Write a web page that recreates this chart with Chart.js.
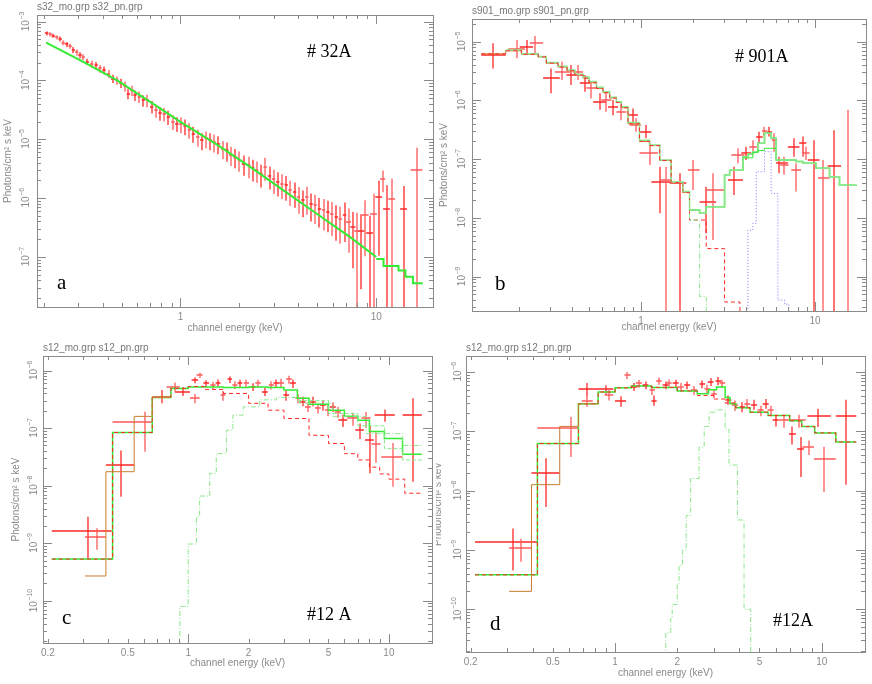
<!DOCTYPE html>
<html>
<head>
<meta charset="UTF-8">
<title>spectra</title>
<script src="https://cdn.jsdelivr.net/npm/chart.js@4.4.1/dist/chart.umd.min.js"></script>
<style>
  body { margin: 0; background: #fff; }
  #wrap { position: relative; width: 872px; height: 684px; }
  canvas { position: absolute; }
</style>
</head>
<body>
<div id="wrap">
  <canvas id="pa" width="436" height="338" style="left:0;top:0"></canvas>
  <canvas id="pb" width="436" height="338" style="left:436px;top:0"></canvas>
  <canvas id="pc" width="436" height="344" style="left:0;top:340px"></canvas>
  <canvas id="pd" width="436" height="344" style="left:436px;top:340px"></canvas>
</div>
<script>
// ---- tick labels
const xTicksAB = [1, 10];
const xTicksCD = [0.2, 0.5, 1, 2, 5, 10];
const yTicksA = [1e-7, 1e-6, 1e-5, 1e-4, 1e-3];
const yTicksB = [1e-9, 1e-8, 1e-7, 1e-6, 1e-5];
const yTicksCD = [1e-10, 1e-9, 1e-8, 1e-7, 1e-6];

// ---- panel a (#32A): model and data [E, flux, rel. y err, rel. x err]
const aModelE = [0.206, 0.319, 0.473, 0.70, 1.0, 1.53, 2.27, 3.36, 4.97, 7.36, 10.0];
const aModelF = [4.4e-4, 2.08e-4, 1.01e-4, 4.33e-5, 1.97e-5, 8.2e-6, 3.38e-6, 1.35e-6, 5.4e-7, 2.16e-7, 9.9e-8];
const aTailE = [10.0, 10.9, 13.0, 14.1, 15.4, 17.3];
const aTailF = [9.2e-8, 7.0e-8, 5.85e-8, 4.6e-8, 3.56e-8];
const aData = [
  [0.207, 6.3e-4, 0.08, 0.02], [0.216, 6.1e-4, 0.08, 0.02], [0.224, 5.8e-4, 0.08, 0.02],
  [0.233, 5.4e-4, 0.08, 0.02], [0.243, 5.1e-4, 0.1, 0.02], [0.252, 4.4e-4, 0.1, 0.02],
  [0.262, 4.1e-4, 0.1, 0.02], [0.273, 3.85e-4, 0.1, 0.02], [0.284, 3.3e-4, 0.12, 0.02],
  [0.295, 3.0e-4, 0.12, 0.02], [0.307, 2.7e-4, 0.12, 0.02], [0.319, 2.5e-4, 0.12, 0.02],
  [0.335, 2.1e-4, 0.12, 0.02], [0.352, 1.9e-4, 0.14, 0.02], [0.371, 1.8e-4, 0.15, 0.02],
  [0.388, 1.6e-4, 0.15, 0.02], [0.407, 1.5e-4, 0.15, 0.02], [0.429, 1.3e-4, 0.16, 0.02],
  [0.451, 1.08e-4, 0.16, 0.02], [0.473, 1.01e-4, 0.16, 0.02], [0.496, 9.1e-5, 0.18, 0.02],
  [0.521, 8.0e-5, 0.2, 0.02], [0.542, 6.0e-5, 0.2, 0.02], [0.564, 6.8e-5, 0.2, 0.02],
  [0.586, 5.6e-5, 0.2, 0.02], [0.617, 5.3e-5, 0.22, 0.02], [0.647, 4.6e-5, 0.22, 0.02],
  [0.678, 4.6e-5, 0.24, 0.02], [0.713, 3.6e-5, 0.24, 0.02], [0.751, 3.1e-5, 0.25, 0.02],
  [0.787, 2.8e-5, 0.26, 0.02], [0.826, 2.7e-5, 0.26, 0.02], [0.868, 2.4e-5, 0.27, 0.02],
  [0.914, 2.0e-5, 0.28, 0.02], [0.958, 1.85e-5, 0.28, 0.02], [1.004, 1.8e-5, 0.3, 0.02],
  [1.056, 1.67e-5, 0.3, 0.02], [1.112, 1.46e-5, 0.3, 0.02], [1.165, 1.25e-5, 0.3, 0.02],
  [1.226, 1.1e-5, 0.32, 0.02], [1.285, 9.6e-6, 0.32, 0.02], [1.352, 1.03e-5, 0.32, 0.02],
  [1.418, 9.6e-6, 0.32, 0.02], [1.486, 9.0e-6, 0.34, 0.02], [1.563, 8.4e-6, 0.34, 0.02],
  [1.645, 6.9e-6, 0.34, 0.02], [1.725, 6.5e-6, 0.36, 0.02], [1.807, 5.5e-6, 0.36, 0.02],
  [1.901, 5.0e-6, 0.36, 0.02], [2.00, 4.5e-6, 0.38, 0.02], [2.10, 3.85e-6, 0.38, 0.02],
  [2.23, 3.6e-6, 0.4, 0.02], [2.34, 3.2e-6, 0.4, 0.02], [2.45, 3.0e-6, 0.4, 0.02],
  [2.58, 2.6e-6, 0.42, 0.02], [2.71, 3.4e-6, 0.42, 0.02], [2.85, 2.4e-6, 0.42, 0.02],
  [2.99, 2.1e-6, 0.44, 0.02], [3.14, 1.9e-6, 0.44, 0.02], [3.30, 1.75e-6, 0.45, 0.02],
  [3.47, 1.64e-6, 0.45, 0.02], [3.63, 1.35e-6, 0.46, 0.02], [3.83, 1.26e-6, 0.46, 0.02],
  [4.01, 1.04e-6, 0.48, 0.02], [4.22, 9.1e-7, 0.48, 0.02], [4.42, 1.04e-6, 0.5, 0.02],
  [4.65, 8.0e-7, 0.5, 0.02], [4.88, 7.5e-7, 0.52, 0.02], [5.13, 6.6e-7, 0.52, 0.02],
  [5.38, 6.2e-7, 0.55, 0.02], [5.66, 5.8e-7, 0.55, 0.02], [5.93, 5.4e-7, 0.58, 0.02],
  [6.25, 4.7e-7, 0.6, 0.02], [6.55, 4.4e-7, 0.62, 0.02], [6.89, 5.1e-7, 0.65, 0.02],
  [7.22, 3.9e-7, 0.7, 0.03], [7.60, 3.2e-7, 0.8, 0.03], [7.96, 2.8e-7, 1.0, 0.03],
  [8.38, 2.8e-7, 0.9, 0.04], [8.79, 5.1e-7, 0.8, 0.04], [9.25, 2.5e-7, 1.0, 0.04],
  [9.69, 5.4e-7, 1.2, 0.04], [10.3, 1.04e-6, 0.9, 0.04], [10.8, 2.1e-6, 0.4, 0.03],
  [11.3, 6.6e-7, 1.5, 0.04], [12.0, 9.8e-7, 1.2, 0.04], [13.8, 6.4e-7, 1.5, 0.04],
  [16.1, 3.0e-6, 1.4, 0.07]
];

// ---- panel b (#901A): bin edges and fluxes; data rows [E, Elo, Ehi, F, Flo, Fhi]
const bGreenE = [0.167, 0.206, 0.257, 0.286, 0.334, 0.376, 0.417, 0.465, 0.503, 0.555, 0.605, 0.661, 0.722, 0.771, 0.842, 0.98, 1.12, 1.28, 1.49, 1.74, 1.90, 2.17, 2.37, 3.02, 3.23, 3.85, 4.11, 4.39, 4.69, 5.12, 5.59, 5.97, 7.78, 8.49, 10.1, 12.1, 13.8, 17.3];
const bGreenF = [7.2e-6, 6.2e-6, 5.6e-6, 4.4e-6, 3.8e-6, 3.3e-6, 2.8e-6, 2.5e-6, 2.1e-6, 1.67e-6, 1.41e-6, 1.13e-6, 9.5e-7, 7.8e-7, 4.2e-7, 2.1e-7, 1.74e-7, 9.7e-8, 4.1e-8, 2.8e-8, 1.36e-8, 1.2e-8, 1.55e-8, 5.4e-8, 6.5e-8, 1.1e-7, 1.22e-7, 1.34e-7, 1.86e-7, 2.75e-7, 2.26e-7, 9.7e-8, 9.1e-8, 8.5e-8, 7.0e-8, 5.0e-8, 3.6e-8];
const bGreen2E = [3.85, 4.39, 4.69, 5.12, 5.97];
const bGreen2F = [1.05e-7, 1.3e-7, 1.4e-7, 1.53e-7];
const bOrangeE = [0.121, 0.167, 0.206, 0.257, 0.286, 0.334, 0.376, 0.417, 0.465, 0.503, 0.555, 0.605, 0.661, 0.722, 0.771, 0.842, 0.98, 1.12, 1.28, 1.49, 1.74, 1.90];
const bOrangeF = [6.2e-6, 7.0e-6, 6.1e-6, 5.5e-6, 4.3e-6, 3.7e-6, 3.2e-6, 2.7e-6, 2.4e-6, 2.0e-6, 1.6e-6, 1.35e-6, 1.1e-6, 9.2e-7, 7.5e-7, 4.0e-7, 2.0e-7, 1.7e-7, 9.5e-8, 4.0e-8, 2.7e-8];
const bRedE = [0.121, 0.167, 0.206, 0.257, 0.286, 0.334, 0.376, 0.417, 0.465, 0.503, 0.555, 0.605, 0.661, 0.722, 0.771, 0.842, 0.98, 1.12, 1.28, 1.49, 1.74, 1.90, 2.37, 3.02, 3.70];
const bRedF = [6.2e-6, 7.0e-6, 6.1e-6, 5.5e-6, 4.3e-6, 3.7e-6, 3.2e-6, 2.7e-6, 2.4e-6, 2.0e-6, 1.6e-6, 1.35e-6, 1.1e-6, 9.2e-7, 7.5e-7, 4.0e-7, 2.0e-7, 1.7e-7, 9.5e-8, 4.0e-8, 2.7e-8, 9.2e-9, 3.0e-9, 3.7e-10, 1e-12];
const bDashE = [1.49, 1.74, 1.90, 2.17, 2.37];
const bDashF = [4.1e-8, 2.8e-8, 9.2e-9, 4.6e-10, 1e-12];
const bBlueE = [4.11, 4.11, 4.39, 4.59, 5.12, 5.59, 6.11, 6.68, 7.06];
const bBlueF = [1e-12, 6.2e-9, 8.1e-9, 6.1e-8, 1.34e-7, 2.6e-8, 4.0e-10, 3.4e-10, 1e-12];
const bData = [
  [0.1416, 0.121, 0.167, 5.93e-6, 3.5e-6, 9.4e-6], [0.193, 0.173, 0.215, 7.5e-6, 5.2e-6, 1.07e-5],
  [0.220, 0.201, 0.240, 8.2e-6, 5.93e-6, 1.07e-5], [0.2455, 0.230, 0.274, 9.6e-6, 6.3e-6, 1.25e-5],
  [0.306, 0.274, 0.3415, 2.38e-6, 1.32e-6, 3.5e-6], [0.354, 0.320, 0.390, 3.08e-6, 2.23e-6, 4.57e-6],
  [0.398, 0.373, 0.426, 2.71e-6, 1.83e-6, 4.0e-6], [0.435, 0.407, 0.465, 3.08e-6, 2.23e-6, 4.0e-6],
  [0.475, 0.445, 0.508, 1.95e-6, 1.41e-6, 2.71e-6], [0.519, 0.486, 0.555, 1.61e-6, 1.08e-6, 2.1e-6],
  [0.580, 0.531, 0.633, 9.5e-7, 6.9e-7, 1.32e-6], [0.633, 0.592, 0.676, 1.02e-6, 6.4e-7, 1.32e-6],
  [0.691, 0.647, 0.738, 7.8e-7, 5.6e-7, 1.02e-6], [0.771, 0.722, 0.824, 6.4e-7, 4.6e-7, 8.4e-7],
  [0.900, 0.842, 0.961, 5.6e-7, 4.07e-7, 7.3e-7], [0.940, 0.861, 1.0, 3.8e-7, 2.94e-7, 4.96e-7],
  [1.064, 0.98, 1.146, 2.94e-7, 2.26e-7, 3.8e-7], [1.12, 0.98, 1.25, 1.26e-7, 7.96e-8, 1.86e-7],
  [1.28, 1.146, 1.49, 4.14e-8, 1.2e-8, 7.45e-8], [1.385, 1.28, 1.49, 4.4e-8, 1e-12, 7.45e-8],
  [1.67, 1.46, 1.82, 3.88e-8, 1e-12, 5.74e-8], [1.99, 1.86, 2.17, 6.5e-8, 2.98e-8, 9.7e-8],
  [2.37, 2.17, 2.70, 1.89e-8, 5.5e-9, 3.4e-8], [2.59, 2.37, 3.02, 2.98e-8, 4.2e-9, 5.74e-8],
  [3.44, 3.16, 3.85, 4.4e-8, 2.45e-8, 7.45e-8], [3.60, 3.30, 3.93, 1.18e-7, 8.5e-8, 1.53e-7],
  [4.02, 3.77, 4.30, 1.26e-7, 9.7e-8, 1.63e-7], [4.39, 4.18, 4.62, 1.63e-7, 1.26e-7, 2.1e-7],
  [4.79, 4.58, 5.0, 2.42e-7, 1.86e-7, 2.94e-7], [5.12, 4.95, 5.30, 3.0e-7, 2.42e-7, 3.57e-7],
  [5.47, 5.30, 5.66, 2.94e-7, 2.42e-7, 3.57e-7], [5.84, 5.64, 6.05, 2.1e-7, 1.34e-7, 2.75e-7],
  [6.24, 5.97, 6.97, 8.5e-8, 5.74e-8, 1.1e-7], [6.67, 6.30, 7.05, 8.0e-8, 5.4e-8, 1.1e-7],
  [7.60, 6.97, 8.13, 1.63e-7, 1.1e-7, 2.26e-7], [7.78, 7.3, 8.3, 6.5e-8, 2.8e-8, 8.5e-8],
  [8.49, 8.1, 8.9, 1.86e-7, 1.1e-7, 2.42e-7], [8.87, 8.5, 9.3, 1.26e-7, 9.7e-8, 1.63e-7],
  [9.91, 9.08, 10.6, 9.7e-8, 1e-12, 2.1e-7], [11.1, 10.4, 12.1, 4.72e-8, 1e-12, 9.7e-8],
  [12.9, 11.8, 14.1, 7.7e-8, 1e-12, 3.1e-7], [15.5, 15.3, 15.7, 3.6e-8, 1e-12, 6.9e-7]
];

// ---- panel c (#12 A)
const cGreenE = [0.209, 0.420, 0.662, 0.820, 1.0, 1.5, 2.0, 2.5, 3.0, 3.5, 4.0, 5.0, 6.0, 7.0, 8.0, 9.5, 11.7, 14.6];
const cGreenF = [5.3e-10, 8.4e-8, 3.4e-7, 4.9e-7, 5.2e-7, 5.1e-7, 5.2e-7, 5.1e-7, 4.6e-7, 3.3e-7, 2.6e-7, 2.05e-7, 1.6e-7, 1.37e-7, 8.7e-8, 6.6e-8, 3.5e-8];
const cGreen2E = [3.5, 5.0, 7.0, 9.5, 11.7, 14.6];
const cGreen2F = [3.0e-7, 1.8e-7, 1.1e-7, 4.4e-8, 2.8e-8];
const cRedE = [0.209, 0.420, 0.662, 0.820, 1.0, 1.2, 1.5, 2.0, 2.5, 3.0, 4.0, 5.0, 6.0, 7.0, 8.0, 9.0, 10.0, 12.0, 14.6];
const cRedF = [5.3e-10, 8.4e-8, 3.4e-7, 4.9e-7, 5.3e-7, 4.7e-7, 4.0e-7, 2.7e-7, 2.05e-7, 1.47e-7, 7.5e-8, 5.4e-8, 3.6e-8, 2.8e-8, 2.1e-8, 1.6e-8, 1.3e-8, 7.4e-9];
const cOrangeE = [0.306, 0.389, 0.538, 0.662, 0.820];
const cOrangeF = [2.7e-10, 1.75e-8, 1.6e-7, 3.4e-7];
const cDashE = [0.909, 0.909, 1.0, 1.10, 1.14, 1.28, 1.38, 1.55, 1.67, 1.88, 2.27, 2.75, 3.59, 5.26, 7.71, 11.7, 14.6];
const cDashF = [1e-12, 8.0e-11, 9.7e-10, 2.9e-9, 6.6e-9, 1.64e-8, 3.6e-8, 9.2e-8, 1.68e-7, 2.34e-7, 3.1e-7, 3.4e-7, 2.7e-7, 1.6e-7, 8.0e-8, 5.0e-8];
const cData = [
  [0.318, 0.209, 0.416, 1.66e-9, 5.5e-10, 2.9e-9], [0.350, 0.306, 0.389, 1.3e-9, 7.7e-10, 1.82e-9],
  [0.463, 0.389, 0.538, 2.28e-8, 6.4e-9, 4.1e-8], [0.609, 0.420, 0.662, 1.29e-7, 3.9e-8, 1.92e-7],
  [0.743, 0.662, 0.820, 3.5e-7, 2.7e-7, 4.6e-7], [0.859, 0.780, 0.909, 5.2e-7, 4.3e-7, 6.2e-7],
  [0.944, 0.859, 1.02, 4.3e-7, 3.6e-7, 5.2e-7], [1.08, 1.02, 1.14, 3.3e-7, 2.7e-7, 3.9e-7],
  [1.08, 1.04, 1.12, 6.8e-7, 6.0e-7, 7.6e-7], [1.14, 1.10, 1.18, 8.3e-7, 7.4e-7, 9.2e-7],
  [1.23, 1.19, 1.27, 6.0e-7, 5.2e-7, 6.8e-7], [1.33, 1.29, 1.37, 5.6e-7, 4.8e-7, 6.4e-7],
  [1.41, 1.37, 1.45, 6.1e-7, 5.3e-7, 7.0e-7], [1.49, 1.45, 1.53, 3.7e-7, 3.0e-7, 4.4e-7],
  [1.61, 1.57, 1.65, 7.0e-7, 6.1e-7, 7.9e-7], [1.71, 1.66, 1.76, 5.6e-7, 4.8e-7, 6.5e-7],
  [1.81, 1.76, 1.86, 6.0e-7, 5.1e-7, 6.9e-7], [1.95, 1.89, 2.01, 6.1e-7, 5.2e-7, 7.0e-7],
  [2.11, 2.04, 2.18, 5.2e-7, 4.4e-7, 6.0e-7], [2.23, 2.16, 2.30, 6.0e-7, 5.1e-7, 6.9e-7],
  [2.41, 2.33, 2.49, 4.3e-7, 3.6e-7, 5.0e-7], [2.60, 2.52, 2.68, 5.6e-7, 4.7e-7, 6.5e-7],
  [2.75, 2.66, 2.84, 6.0e-7, 5.1e-7, 7.0e-7], [2.91, 2.82, 3.00, 6.1e-7, 5.0e-7, 7.2e-7],
  [3.08, 2.98, 3.18, 3.7e-7, 3.0e-7, 4.5e-7], [3.18, 3.08, 3.28, 7.0e-7, 5.9e-7, 8.1e-7],
  [3.33, 3.22, 3.44, 6.0e-7, 5.0e-7, 7.0e-7], [3.53, 3.42, 3.64, 3.3e-7, 2.7e-7, 3.9e-7],
  [3.73, 3.61, 3.85, 2.9e-7, 2.4e-7, 3.5e-7], [3.95, 3.82, 4.08, 2.34e-7, 1.9e-7, 2.8e-7],
  [4.19, 4.05, 4.33, 2.9e-7, 2.4e-7, 3.5e-7], [4.43, 4.28, 4.58, 2.2e-7, 1.8e-7, 2.7e-7],
  [4.69, 4.53, 4.85, 2.5e-7, 2.0e-7, 3.0e-7], [4.97, 4.80, 5.14, 2.05e-7, 1.6e-7, 2.5e-7],
  [5.26, 5.08, 5.44, 2.34e-7, 1.9e-7, 2.8e-7], [5.57, 5.38, 5.76, 1.92e-7, 1.5e-7, 2.35e-7],
  [5.90, 5.6, 6.2, 1.38e-7, 1.05e-7, 1.7e-7], [6.62, 6.2, 7.0, 1.47e-7, 1.1e-7, 1.85e-7],
  [7.14, 6.8, 7.5, 9.2e-8, 6.5e-8, 1.2e-7], [7.71, 7.3, 8.1, 1.47e-7, 1.0e-7, 1.9e-7],
  [8.01, 7.6, 8.4, 6.2e-8, 1.64e-8, 1.1e-7], [8.65, 8.2, 9.1, 5.4e-8, 2.5e-8, 8.5e-8],
  [9.51, 8.49, 10.7, 1.68e-7, 1.29e-7, 2.1e-7], [10.5, 9.16, 11.7, 3.2e-8, 9.6e-9, 5.5e-8],
  [13.2, 11.7, 14.6, 1.68e-7, 1.17e-8, 3.3e-7]
];

// ---- panel d (#12A)
const dGreenE = [0.210, 0.421, 0.665, 0.828, 1.0, 1.2, 1.5, 2.0, 2.5, 2.83, 3.1, 3.41, 3.6, 3.84, 4.5, 5.5, 7.0, 8.0, 9.25, 11.7, 14.7];
const dGreenF = [3.8e-10, 6.2e-8, 2.9e-7, 4.6e-7, 5.4e-7, 5.8e-7, 5.5e-7, 4.8e-7, 4.3e-7, 5.0e-7, 5.6e-7, 3.7e-7, 2.9e-7, 2.5e-7, 2.1e-7, 1.85e-7, 1.5e-7, 1.2e-7, 9.4e-8, 6.6e-8];
const dRedE = [0.210, 0.421, 0.665, 0.828, 1.0, 1.2, 1.5, 2.0, 2.5, 3.0, 3.41, 3.84, 4.5, 5.5, 7.0, 8.0, 9.25, 11.7, 14.7];
const dRedF = [3.8e-10, 6.2e-8, 2.9e-7, 4.6e-7, 5.4e-7, 5.8e-7, 5.5e-7, 4.8e-7, 4.0e-7, 3.5e-7, 3.0e-7, 2.5e-7, 2.1e-7, 1.85e-7, 1.5e-7, 1.2e-7, 9.4e-8, 6.6e-8];
const dOrangeE = [0.307, 0.394, 0.540, 0.665, 0.828];
const dOrangeF = [2.0e-10, 1.26e-8, 1.21e-7, 2.9e-7];
const dDashE = [1.76, 1.76, 1.86, 1.89, 2.0, 2.04, 2.12, 2.21, 2.32, 2.55, 2.70, 2.85, 3.07, 3.41, 3.56, 3.91, 4.21, 4.53];
const dDashF = [1e-12, 4e-11, 7e-11, 1.2e-10, 2.7e-10, 5.5e-10, 9.9e-10, 3.8e-9, 1.6e-8, 5.4e-8, 1.21e-7, 2.1e-7, 2.3e-7, 1.1e-7, 2.7e-8, 3.2e-9, 1.0e-10, 1e-12];
const dData = [
  [0.319, 0.210, 0.421, 1.36e-9, 4.5e-10, 2.3e-9], [0.350, 0.307, 0.394, 1.09e-9, 6.3e-10, 1.55e-9],
  [0.462, 0.394, 0.540, 2.0e-8, 5.3e-9, 3.5e-8], [0.610, 0.421, 0.665, 1.14e-7, 3.7e-8, 1.75e-7],
  [0.735, 0.665, 0.828, 5.1e-7, 3.9e-7, 6.5e-7], [0.735, 0.690, 0.780, 3.3e-7, 2.6e-7, 4.0e-7],
  [0.902, 0.828, 0.98, 5.1e-7, 4.2e-7, 6.0e-7], [0.935, 0.89, 0.98, 4.1e-7, 3.3e-7, 4.9e-7],
  [1.065, 1.00, 1.13, 3.2e-7, 2.6e-7, 3.9e-7], [1.147, 1.11, 1.19, 8.8e-7, 7.6e-7, 1.0e-6],
  [1.236, 1.19, 1.28, 5.6e-7, 4.8e-7, 6.5e-7], [1.306, 1.26, 1.35, 6.4e-7, 5.5e-7, 7.3e-7],
  [1.407, 1.36, 1.45, 6.0e-7, 5.1e-7, 6.9e-7], [1.515, 1.47, 1.56, 4.9e-7, 4.1e-7, 5.8e-7],
  [1.544, 1.50, 1.59, 3.3e-7, 2.7e-7, 4.0e-7], [1.632, 1.58, 1.68, 7.1e-7, 6.1e-7, 8.1e-7],
  [1.758, 1.70, 1.81, 6.0e-7, 5.1e-7, 6.9e-7], [1.824, 1.77, 1.88, 6.5e-7, 5.5e-7, 7.5e-7],
  [1.966, 1.90, 2.03, 6.4e-7, 5.4e-7, 7.4e-7], [2.079, 2.01, 2.15, 5.6e-7, 4.7e-7, 6.5e-7],
  [2.239, 2.16, 2.31, 6.0e-7, 5.1e-7, 6.9e-7], [2.412, 2.33, 2.49, 4.9e-7, 4.1e-7, 5.8e-7],
  [2.646, 2.56, 2.73, 6.2e-7, 5.3e-7, 7.2e-7], [2.798, 2.71, 2.89, 5.2e-7, 4.4e-7, 6.1e-7],
  [2.904, 2.81, 3.00, 6.8e-7, 5.8e-7, 7.9e-7], [3.013, 2.92, 3.11, 4.3e-7, 3.6e-7, 5.0e-7],
  [3.162, 3.06, 3.26, 7.1e-7, 6.0e-7, 8.2e-7], [3.306, 3.20, 3.41, 6.4e-7, 5.4e-7, 7.4e-7],
  [3.533, 3.42, 3.65, 3.4e-7, 2.8e-7, 4.0e-7], [3.807, 3.68, 3.94, 2.74e-7, 2.2e-7, 3.3e-7],
  [4.132, 4.00, 4.27, 2.57e-7, 2.1e-7, 3.1e-7], [4.366, 4.22, 4.51, 2.9e-7, 2.4e-7, 3.5e-7],
  [4.707, 4.55, 4.86, 2.8e-7, 2.3e-7, 3.4e-7], [5.07, 4.90, 5.24, 2.26e-7, 1.8e-7, 2.7e-7],
  [5.36, 5.18, 5.54, 2.9e-7, 2.4e-7, 3.5e-7], [5.66, 5.47, 5.85, 2.26e-7, 1.8e-7, 2.7e-7],
  [5.99, 5.79, 6.19, 1.53e-7, 1.2e-7, 1.9e-7], [6.57, 6.2, 6.95, 1.53e-7, 1.15e-7, 1.9e-7],
  [7.21, 6.95, 7.5, 9.1e-8, 6.0e-8, 1.2e-7], [7.77, 6.95, 8.37, 1.53e-7, 1.15e-7, 1.9e-7],
  [7.91, 7.6, 8.2, 5.1e-8, 1.7e-8, 8.0e-8], [8.68, 8.06, 9.18, 5.4e-8, 4.0e-8, 7.0e-8],
  [9.64, 8.53, 11.06, 1.79e-7, 1.18e-7, 2.4e-7], [10.27, 9.18, 11.7, 3.4e-8, 9.5e-9, 5.5e-8],
  [13.06, 11.7, 14.7, 1.81e-7, 1.26e-8, 3.4e-7]
];

// ---- styling
const SANS = "'Liberation Sans', Arial, sans-serif";
const SERIF = "'Liberation Serif', 'Times New Roman', serif";
const GREY = '#8a8a8a';
const RED = 'rgb(255, 40, 40)';
const PINK = 'rgb(255, 90, 90)';
const GREEN = 'rgb(50, 235, 50)';
const LGREEN = 'rgb(140, 230, 140)';
const ORANGE = 'rgb(200, 125, 50)';
const BLUE = 'rgb(120, 120, 255)';

function steps(edges, flux) {
  return edges.map((e, i) => ({ x: e, y: flux[Math.min(i, flux.length - 1)] }));
}
function model(edges, flux, color, dash, width) {
  return { type: 'line', data: steps(edges, flux), borderColor: color, borderWidth: width || 1,
           borderDash: dash || [], stepped: true, pointRadius: 0, fill: false };
}
// split rows into two alternating sets (pn / mos)
function crossSets(points) {
  return [RED, PINK].map((c, k) => ({
    type: 'scatter', barColor: c, pointRadius: 0, showLine: false,
    borderColor: c, backgroundColor: c,
    data: points.filter((p, i) => i % 2 === k)
  }));
}
function crosses(rows) {
  return crossSets(rows.map(r => ({ x: r[0], xMin: r[1], xMax: r[2], y: r[3], yMin: r[4], yMax: r[5] })));
}
function crossesRel(rows) {
  return crossSets(rows.map(r => ({ x: r[0], xMin: r[0] * (1 - r[3]), xMax: r[0] * (1 + r[3]),
                                    y: r[1], yMin: r[1] * (1 - r[2]), yMax: r[1] * (1 + r[2]) })));
}

const px = v => Math.round(v) + 0.5;

// error crosses: drawn on whole pixels so each bar spreads softly over two pixels
const errorBars = {
  id: 'errorBars',
  beforeDatasetsDraw(chart) {
    const { ctx, chartArea: a, scales: { x, y } } = chart;
    ctx.save();
    ctx.beginPath();
    ctx.rect(a.left, a.top, a.width, a.height);
    ctx.clip();
    ctx.lineWidth = 1.3;
    chart.data.datasets.forEach(ds => {
      if (!ds.barColor) return;
      ds.data.forEach(p => {
        const cx = Math.round(x.getPixelForValue(p.x));
        const cy = Math.round(y.getPixelForValue(p.y));
        const lo = p.yMin > 0 ? y.getPixelForValue(p.yMin) : a.bottom + 5;
        ctx.strokeStyle = ds.barColor;
        ctx.beginPath();
        ctx.moveTo(x.getPixelForValue(p.xMin), cy);
        ctx.lineTo(x.getPixelForValue(p.xMax), cy);
        ctx.moveTo(cx, lo);
        ctx.lineTo(cx, y.getPixelForValue(p.yMax));
        ctx.stroke();
      });
    });
    ctx.restore();
  }
};

// frame, inward ticks, rotated power-of-ten labels and panel texts
const frame = {
  id: 'frame',
  afterDraw(chart, args, opts) {
    const { ctx, chartArea: a, scales: { x, y } } = chart;
    ctx.save();
    ctx.strokeStyle = GREY;
    ctx.lineWidth = 1;
    ctx.strokeRect(px(a.left), px(a.top), Math.round(a.width), Math.round(a.height));
    const each = (scale, fn) => {
      const lo = Math.floor(Math.log10(scale.min)), hi = Math.ceil(Math.log10(scale.max));
      for (let e = lo; e <= hi; e++) {
        for (let k = 1; k < 10; k++) {
          const v = k * Math.pow(10, e);
          if (v < scale.min || v > scale.max) continue;
          fn(px(scale.getPixelForValue(v)), k === 1 ? 9 : 4);
        }
      }
    };
    ctx.beginPath();
    each(x, (p, len) => {
      ctx.moveTo(p, a.bottom); ctx.lineTo(p, a.bottom - len);
      ctx.moveTo(p, a.top); ctx.lineTo(p, a.top + len);
    });
    each(y, (p, len) => {
      ctx.moveTo(a.left, p); ctx.lineTo(a.left + len, p);
      ctx.moveTo(a.right, p); ctx.lineTo(a.right - len, p);
    });
    ctx.stroke();

    // y tick labels: "10" with raised exponent, rotated to read upwards
    ctx.fillStyle = GREY;
    ctx.textBaseline = 'middle';
    ctx.textAlign = 'left';
    opts.yLabels.forEach(v => {
      const exp = '\u2212' + String(-Math.round(Math.log10(v)));
      ctx.font = '10px ' + SANS;
      const w1 = ctx.measureText('10').width;
      ctx.font = '7px ' + SANS;
      const w2 = ctx.measureText(exp).width;
      ctx.save();
      ctx.translate(a.left - opts.yLabelGap, y.getPixelForValue(v));
      ctx.rotate(-Math.PI / 2);
      const s = -(w1 + w2) / 2;
      ctx.font = '10px ' + SANS;
      ctx.fillText('10', s, 1);
      ctx.font = '7px ' + SANS;
      ctx.fillText(exp, s + w1 + 0.5, -3);
      ctx.restore();
    });

    ctx.fillStyle = '#777';
    ctx.font = '10px ' + SANS;
    ctx.fillText(opts.header, a.left, a.top + opts.headerDy);
    ctx.fillStyle = '#000';
    ctx.font = '18px ' + SERIF;
    ctx.textBaseline = 'alphabetic';
    ctx.fillText(opts.tag, opts.tagX, opts.tagY);
    ctx.font = '21px ' + SERIF;
    ctx.fillText(opts.letter, opts.letterX, opts.letterY);
    ctx.restore();
  }
};

function makePanel(id, o) {
  new Chart(document.getElementById(id), {
    type: 'line',
    data: { datasets: o.datasets },
    options: {
      responsive: false,
      animation: false,
      layout: { padding: { top: o.top, right: o.right, left: 0, bottom: 0 } },
      plugins: { legend: { display: false }, tooltip: { enabled: false }, frame: o.text },
      scales: {
        x: {
          type: 'logarithmic', min: o.xMin, max: o.xMax,
          grid: { display: false, drawTicks: false }, border: { display: false },
          afterBuildTicks: s => { s.ticks = o.xTicks.map(v => ({ value: v })); },
          afterFit: s => { s.height = o.xh; },
          ticks: { autoSkip: false, maxRotation: 0, padding: 4, color: GREY,
                   font: { family: SANS, size: 10 }, callback: v => String(v) },
          title: { display: true, text: 'channel energy (keV)', color: GREY,
                   font: { family: SANS, size: 10 }, padding: { top: 0, bottom: o.xTitlePad } }
        },
        y: {
          type: 'logarithmic', min: o.yMin, max: o.yMax,
          grid: { display: false, drawTicks: false }, border: { display: false },
          afterFit: s => { s.width = o.yw; },
          ticks: { display: false },
          title: { display: true, text: 'Photons/cm\u00b2 s keV', color: GREY,
                   font: { family: SANS, size: 10 }, padding: { top: o.yTitlePad, bottom: 0 } }
        }
      }
    },
    plugins: [errorBars, frame]
  });
}

makePanel('pa', {
  top: 15, right: 3, yw: 37, xh: 31, xTitlePad: 4, yTitlePad: 2,
  xMin: 0.185, xMax: 19.5, yMin: 1.4e-8, yMax: 1.3e-3, xTicks: xTicksAB,
  text: { header: 's32_mo.grp s32_pn.grp', headerDy: -8, tag: '# 32A', tagX: 307, tagY: 57,
          letter: 'a', letterX: 57, letterY: 289, yLabels: yTicksA, yLabelGap: 12 },
  datasets: [
    ...crossesRel(aData),
    { type: 'line', data: aModelE.map((e, i) => ({ x: e, y: aModelF[i] })), borderColor: GREEN,
      borderWidth: 2, pointRadius: 0, fill: false },
    model(aTailE, aTailF, GREEN, [], 2)
  ]
});

makePanel('pb', {
  top: 19, right: 6, yw: 36, xh: 27, xTitlePad: 5, yTitlePad: 2,
  xMin: 0.107, xMax: 19.6, yMin: 2.6e-10, yMax: 2.43e-5, xTicks: xTicksAB,
  text: { header: 's901_mo.grp s901_pn.grp', headerDy: -8, tag: '# 901A', tagX: 299, tagY: 62,
          letter: 'b', letterX: 59, letterY: 290, yLabels: yTicksB, yLabelGap: 11 },
  datasets: [
    ...crosses(bData),
    model(bBlueE, bBlueF, BLUE, [1, 2], 1),
    model(bDashE, bDashF, LGREEN, [5, 2, 1, 2], 1),
    model(bRedE, bRedF, RED, [4, 3], 1),
    model(bGreen2E, bGreen2F, GREEN, [], 1),
    model(bGreenE, bGreenF, LGREEN, [], 1.5),
    model(bOrangeE, bOrangeF, ORANGE, [], 1),
    model(bGreenE.slice(20), bGreenF.slice(20), GREEN, [], 1.5)
  ]
});

makePanel('pc', {
  top: 16, right: 4, yw: 43, xh: 41, xTitlePad: 15, yTitlePad: 10,
  xMin: 0.189, xMax: 16.4, yMin: 1.85e-11, yMax: 1.79e-6, xTicks: xTicksCD,
  text: { header: 's12_mo.grp s12_pn.grp', headerDy: -8, tag: '#12 A', tagX: 307, tagY: 280,
          letter: 'c', letterX: 62, letterY: 284, yLabels: yTicksCD, yLabelGap: 9.5 },
  datasets: [
    ...crosses(cData),
    model(cDashE, cDashF, LGREEN, [5, 2, 1, 2], 1),
    model(cOrangeE, cOrangeF, ORANGE, [], 1),
    model(cRedE, cRedF, RED, [4, 3], 1),
    model(cGreen2E, cGreen2F, LGREEN, [4, 2], 1),
    model(cGreenE, cGreenF, GREEN, [], 1.5)
  ]
});

makePanel('pd', {
  top: 16, right: 7, yw: 30, xh: 32, xTitlePad: 5, yTitlePad: -4,
  xMin: 0.19, xMax: 16.2, yMin: 1.9e-11, yMax: 1.86e-6, xTicks: xTicksCD,
  text: { header: 's12_mo.grp s12_pn.grp', headerDy: -8, tag: '#12A', tagX: 337, tagY: 286,
          letter: 'd', letterX: 54, letterY: 290, yLabels: yTicksCD, yLabelGap: 9 },
  datasets: [
    ...crosses(dData),
    model(dDashE, dDashF, LGREEN, [5, 2, 1, 2], 1),
    model(dOrangeE, dOrangeF, ORANGE, [], 1),
    model(dRedE, dRedF, RED, [4, 3], 1),
    model(dGreenE, dGreenF, GREEN, [], 1.5)
  ]
});
</script>
</body>
</html>
